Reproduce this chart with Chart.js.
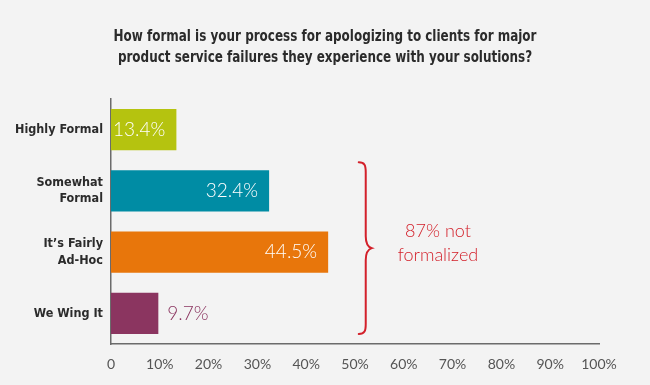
<!DOCTYPE html>
<html>
<head>
<meta charset="utf-8">
<script src="https://cdn.jsdelivr.net/npm/chart.js@4/dist/chart.umd.min.js"></script>
<style>
  html, body { margin: 0; padding: 0; background: #f3f3f3; }
  #wrap { width: 650px; height: 385px; }
</style>
</head>
<body>
<div id="wrap"><canvas id="myChart" width="650" height="385"></canvas></div>
<script>
// naslov grafa
var titleLines = ["How formal is your process for apologizing to clients for major",
                  "product service failures they experience with your solutions?"];
// kategorije (os y)
var categories = ["Highly Formal", ["Somewhat", "Formal"], ["It\u2019s Fairly", "Ad-Hoc"], "We Wing It"];
// delezi v odstotkih
var values = [13.4, 32.4, 44.5, 9.7];
// barve stolpcev
var barColors = ["#b5c30f", "#008ca4", "#e8760b", "#8b3560"];
// kje je napis: notri (bel) ali zunaj (v barvi stolpca)
var labelInside = [true, true, true, false];
// opomba ob oklepaju
var noteLines = ["87% not", "formalized"];
// katere kategorije zajame oklepaj
var braceFrom = 1;
var braceTo = 3;

var condFont = "'DejaVu Sans Condensed', 'DejaVu Sans', sans-serif";
var handFont = "Lato, 'Open Sans', sans-serif";
var red = "#d3202a";

// naslov - stisnjen vodoravno, da je podoben ozki pisavi
var titlePlugin = {
  id: "titlePlugin",
  afterDraw: function(chart) {
    var ctx = chart.ctx;
    ctx.save();
    ctx.font = "bold 16px " + condFont;
    ctx.fillStyle = "#2b2b2b";
    ctx.textAlign = "center";
    ctx.textBaseline = "middle";
    var sx = 423 / ctx.measureText(titleLines[0]).width;
    ctx.translate(chart.width / 2, 0);
    ctx.scale(sx, 1);
    ctx.fillText(titleLines[0], 0, 37);
    ctx.fillText(titleLines[1], 0, 58);
    ctx.restore();
  }
};

// napisi vrednosti na stolpcih
var valueLabels = {
  id: "valueLabels",
  afterDatasetsDraw: function(chart) {
    var ctx = chart.ctx;
    var meta = chart.getDatasetMeta(0);
    ctx.save();
    ctx.font = "300 19px " + handFont;
    ctx.textBaseline = "middle";
    for (var i = 0; i < meta.data.length; i++) {
      var bar = meta.data[i];
      var txt = values[i].toFixed(1) + "%";
      if (labelInside[i]) {
        ctx.fillStyle = "#ffffff";
        ctx.textAlign = "right";
        ctx.fillText(txt, bar.x - 11, bar.y);
      } else {
        ctx.fillStyle = barColors[i];
        ctx.textAlign = "left";
        ctx.fillText(txt, bar.x + 9, bar.y);
      }
    }
    ctx.restore();
  }
};

// rdec zaviti oklepaj z opombo
var bracePlugin = {
  id: "bracePlugin",
  afterDraw: function(chart) {
    var ctx = chart.ctx;
    var meta = chart.getDatasetMeta(0);
    var xs = chart.scales.x;
    var top = meta.data[braceFrom].y - meta.data[braceFrom].height / 2 - 8;
    var bot = meta.data[braceTo].y + meta.data[braceTo].height / 2;
    var mid = (top + bot) / 2;
    var x = xs.getPixelForValue(52.2);
    ctx.save();
    ctx.strokeStyle = red;
    ctx.lineWidth = 2;
    ctx.lineCap = "round";
    ctx.beginPath();
    ctx.moveTo(x - 7, top);
    ctx.bezierCurveTo(x - 1, top, x, top + 3, x, top + 10);
    ctx.lineTo(x, mid - 12);
    ctx.bezierCurveTo(x, mid - 4, x + 3, mid - 1, x + 6, mid);
    ctx.bezierCurveTo(x + 3, mid + 1, x, mid + 4, x, mid + 12);
    ctx.lineTo(x, bot - 10);
    ctx.bezierCurveTo(x, bot - 3, x - 1, bot, x - 7, bot);
    ctx.stroke();
    ctx.fillStyle = red;
    ctx.font = "300 18px " + handFont;
    ctx.textAlign = "center";
    ctx.textBaseline = "middle";
    var cx = xs.getPixelForValue(67);
    ctx.fillText(noteLines[0], cx, mid - 17);
    ctx.fillText(noteLines[1], cx, mid + 7);
    ctx.restore();
  }
};

var bg = {
  id: "bg",
  beforeDraw: function(chart) {
    var ctx = chart.ctx;
    ctx.save();
    ctx.fillStyle = "#f3f3f3";
    ctx.fillRect(0, 0, chart.width, chart.height);
    ctx.restore();
  }
};

var myChart = new Chart(document.getElementById("myChart"), {
  type: "bar",
  data: {
    labels: categories,
    datasets: [{
      data: values,
      backgroundColor: barColors,
      borderWidth: 0,
      categoryPercentage: 1,
      barPercentage: 0.67
    }]
  },
  options: {
    indexAxis: "y",
    responsive: false,
    animation: false,
    layout: { padding: { left: 0, right: 51, top: 99, bottom: 0 } },
    plugins: {
      legend: { display: false },
      tooltip: { enabled: false },
      title: { display: false }
    },
    scales: {
      x: {
        min: 0,
        max: 100,
        grid: { display: false, drawTicks: false },
        border: { display: true, color: "#6b6b6b", width: 1.5 },
        ticks: {
          stepSize: 10,
          padding: 12,
          color: "#555555",
          maxRotation: 0,
          font: { family: "Lato, sans-serif", size: 14 },
          callback: function(v) { return v === 0 ? "0" : v + "%"; }
        },
        afterFit: function(scale) { scale.height = 41; }
      },
      y: {
        grid: { display: false, drawTicks: false },
        border: { display: true, color: "#6b6b6b", width: 1.5 },
        ticks: {
          padding: 8,
          color: "#2b2b2b",
          font: { family: condFont, size: 12.5, weight: "bold", lineHeight: 1.3 }
        },
        afterFit: function(scale) { scale.width = 111; }
      }
    }
  },
  plugins: [bg, valueLabels, bracePlugin, titlePlugin]
});
</script>
</body>
</html>
